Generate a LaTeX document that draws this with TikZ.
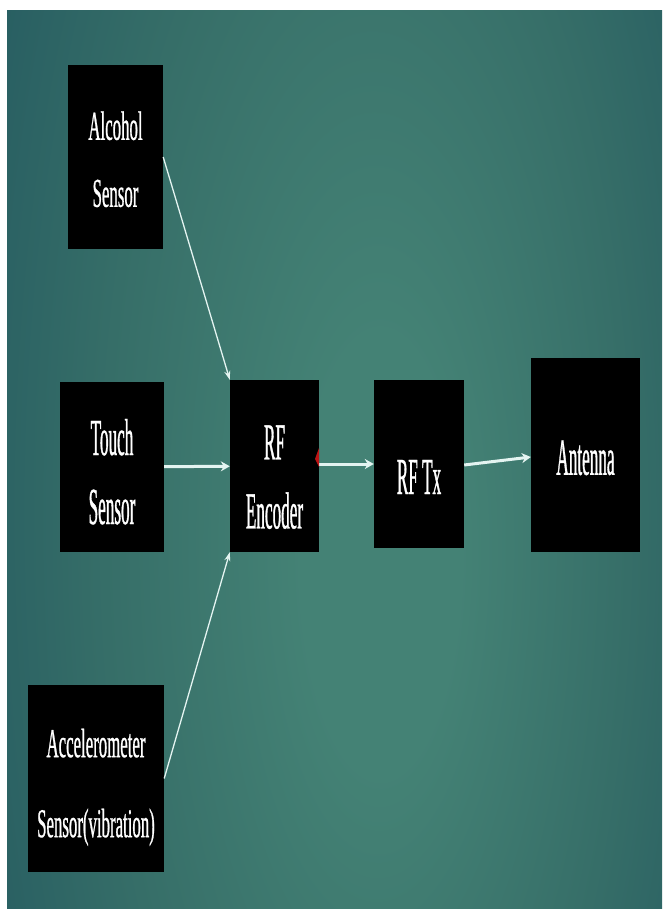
\documentclass[tikz,border=0pt]{standalone}
\usepackage{fontspec}
\usetikzlibrary{arrows.meta}
\newfontfamily\blockfont[FakeStretch=0.33,FakeBold=0.6]{Liberation Serif}
\newfontfamily\sensorfont[FakeStretch=0.41,FakeBold=0.6]{Liberation Serif}
\definecolor{bgmid}{RGB}{68,130,117}
\definecolor{bgtop}{RGB}{54,110,104}
\definecolor{bgside}{RGB}{38,92,97}
\definecolor{bgedge}{RGB}{29,76,87}
\definecolor{bgcorner}{RGB}{24,64,78}
\definecolor{wire}{RGB}{228,244,241}
\definecolor{tipred}{RGB}{190,20,20}
\pgfdeclareradialshading{tealglow}{\pgfpoint{4bp}{-3bp}}{color(0bp)=(bgmid); color(6bp)=(bgmid); color(20bp)=(bgtop); color(32bp)=(bgside); color(42bp)=(bgedge); color(50bp)=(bgcorner)}
\tikzset{
  block/.style={fill=black, text=white, inner sep=0pt, align=center,
    font=\blockfont\fontsize{52}{69}\selectfont},
  sensorblock/.style={block, font=\sensorfont\fontsize{41}{67}\selectfont},
  thinwire/.style={draw=wire, line width=1.3pt, -{Stealth[length=9pt,width=6pt]}},
  thickwire/.style={draw=wire, line width=3pt, -{Stealth[length=9pt,width=10pt]}}
}
\begin{document}
\begin{tikzpicture}[x=1pt,y=-1pt]
  \useasboundingbox (0,0) rectangle (662,909);
  \fill[white] (0,0) rectangle (662,909);
  \begin{scope}
    \clip (7,11) rectangle (662,909);
    % square shading squeezed sideways into an ellipse
    \begin{scope}[transform canvas={shift={(334.5,460)}, xscale=0.3639}]
      \shade[shading=tealglow] (-900,-900) rectangle (900,900);
    \end{scope}
  \end{scope}

  % sensors
  \node[sensorblock, minimum width=95, minimum height=184, text height=100pt] (alc) at (115.5,157) {Alcohol\\Sensor};
  \node[block, minimum width=104, minimum height=170, text height=114.5pt] (touch) at (112,467) {Touch\\Sensor};
  \node[sensorblock, minimum width=136, minimum height=187, text height=126pt] (acc) at (96,778.5) {Accelerometer\\[13pt]Sensor(vibration)};

  % transmitter chain
  \node[block, minimum width=89, minimum height=172, text height=125.4pt] (enc) at (274.5,466) {RF\\Encoder};
  \node[block, minimum width=90, minimum height=168, text height=60pt] (tx) at (419,464) {RF Tx};
  \node[block, minimum width=109, minimum height=194, text height=40pt] (ant) at (585.5,455) {Antenna};

  \draw[thinwire] (alc.east) -- (enc.north west);
  \draw[thickwire] (touch) -- (enc);
  \draw[thinwire] (acc.east) -- (enc.south west);
  \draw[thickwire] (enc.east |- tx.west) -- (tx.west);
  \draw[thickwire] ([yshift=-1pt]tx.east) -- ([yshift=-2pt]ant.west);
  \fill[tipred] (319,448) -- (315,459) -- (319,467) -- cycle;
\end{tikzpicture}
\end{document}
